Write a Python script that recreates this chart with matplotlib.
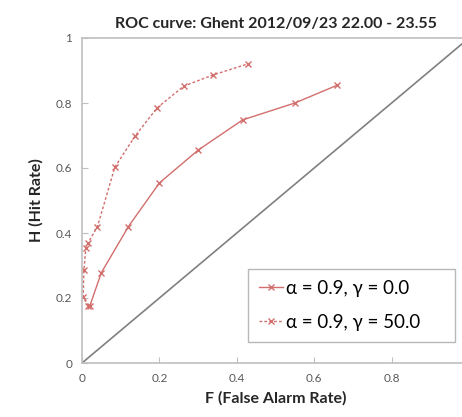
import matplotlib.pyplot as plt

# ROC points
f_gamma0 = [0.02, 0.05, 0.12, 0.20, 0.30, 0.415, 0.55, 0.66]
h_gamma0 = [0.175, 0.278, 0.42, 0.554, 0.655, 0.748, 0.80, 0.855]

f_gamma50 = [0.016, 0.003, 0.005, 0.010, 0.015, 0.04, 0.085, 0.137, 0.194, 0.263, 0.338, 0.428]
h_gamma50 = [0.175, 0.203, 0.286, 0.355, 0.368, 0.42, 0.603, 0.698, 0.785, 0.852, 0.886, 0.92]

labels = ['α = 0.9, γ = 0.0', 'α = 0.9, γ = 50.0']
x_ticks = [0, 0.2, 0.4, 0.6, 0.8]
y_ticks = [0, 0.2, 0.4, 0.6, 0.8, 1]

plt.rcParams['font.family'] = ['Lato', 'DejaVu Sans']

red = '#D26F6D'
grey = '#595959'

fig = plt.figure(figsize=(4.62, 4.17), dpi=100)
ax = fig.add_axes([82 / 462, 1 - 363 / 417, (469 - 82) / 462, (363 - 38) / 417])

ax.plot([0, 1], [0, 1], color='#808080', lw=1.2)
ax.plot(f_gamma0, h_gamma0, color=red, lw=1.0, marker='x', ms=5, mew=1.0,
        label=labels[0])
ax.plot(f_gamma50, h_gamma50, color=red, lw=1.0, ls=(0, (2, 1.5)), marker='x',
        ms=5, mew=1.0, label=labels[1])

ax.set_xlim(0, 1)
ax.set_ylim(0, 1)
ax.set_xticks(x_ticks)
ax.set_xticklabels(['0', '0.2', '0.4', '0.6', '0.8'])
ax.set_yticks(y_ticks)
ax.set_yticklabels(['0', '0.2', '0.4', '0.6', '0.8', '1'])
ax.tick_params(direction='in', length=4, color='#bfbfbf', labelsize=8.5,
               labelcolor=grey, pad=7)
for s in ax.spines.values():
    s.set_color('#bfbfbf')
    s.set_linewidth(1.2)

ax.set_title('ROC curve: Ghent 2012/09/23 22.00 - 23.55', fontsize=11.5,
             fontweight='bold', color='#262626', pad=7)
ax.set_xlabel('F (False Alarm Rate)', fontsize=11.5, fontweight='bold',
              color='#262626', labelpad=5)
ax.set_ylabel('H (Hit Rate)', fontsize=11.5, fontweight='bold',
              color='#262626', labelpad=9)

leg = ax.legend(loc='lower left', bbox_to_anchor=(0.428, 0.065, 0.535, 0.28),
                mode='expand', fontsize=13.5, frameon=True, fancybox=False,
                handlelength=1.3, handletextpad=0.15, labelspacing=0.9,
                borderpad=0.6, borderaxespad=0)
leg.get_frame().set_edgecolor('#a6a6a6')
leg.get_frame().set_linewidth(1.0)

plt.savefig('out.png', dpi=100)
